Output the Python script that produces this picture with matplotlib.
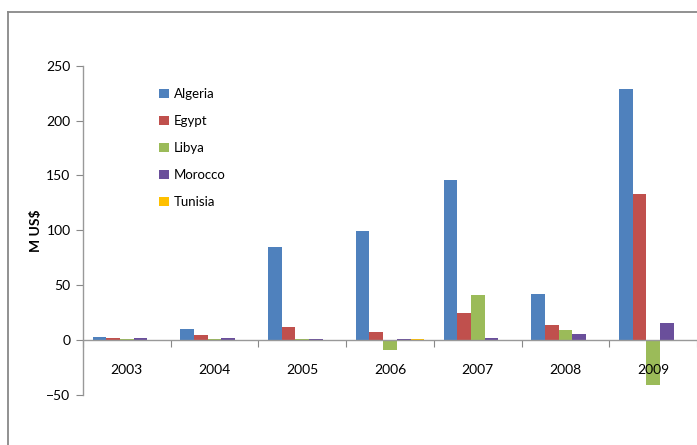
import matplotlib
matplotlib.use("Agg")
import matplotlib.pyplot as plt
from matplotlib.lines import Line2D
import numpy as np

plt.rcParams['font.family'] = ['Lato', 'DejaVu Sans']

years = ['2003', '2004', '2005', '2006', '2007', '2008', '2009']
countries = ['Algeria', 'Egypt', 'Libya', 'Morocco', 'Tunisia']
algeria = [2.5, 10, 85, 99, 146, 42, 229]
egypt = [1.5, 5, 12, 7.5, 25, 14, 133]
libya = [0.8, 1, 1, -9, 41, 9.5, -41]
morocco = [1.5, 1.5, 1, 1, 1.5, 6, 16]
tunisia = [0, 0, 0, 1, 0, 0, -1]
series = [algeria, egypt, libya, morocco, tunisia]
colors = ['#4F81BD', '#C0504D', '#9BBB59', '#6A4F9B', '#FFC000']

fig = plt.figure(figsize=(6.97, 4.45), dpi=100)
W, H = 697, 445
ax = fig.add_axes([83 / W, 1 - 395 / H, (697 - 83) / W, (395 - 65.7) / H])

x = np.arange(len(years)) + 0.5
w = 0.156
for k, (vals, c, name) in enumerate(zip(series, colors, countries)):
    ax.bar(x + (k - 2) * w, vals, width=w, color=c, label=name, linewidth=0)

ax.set_xlim(0, 7)
ax.set_ylim(-50, 250)
ax.set_yticks([-50, 0, 50, 100, 150, 200, 250])
ax.tick_params(axis='y', direction='out', length=5, color='#888888', labelsize=10, pad=4)

ax.spines['bottom'].set_position(('data', 0))
ax.spines['top'].set_visible(False)
ax.spines['right'].set_visible(False)
for s in ['left', 'bottom']:
    ax.spines[s].set_color('#999999')
    ax.spines[s].set_linewidth(1.0)

ax.set_xticks(np.arange(0, 8))
ax.set_xticklabels([])
ax.set_xticks(x, minor=True)
ax.set_xticklabels(years, minor=True)
ax.tick_params(axis='x', which='major', direction='out', length=5, color='#888888')
ax.tick_params(axis='x', which='minor', length=0, labelsize=10, pad=17)

ax.set_ylabel('M US$', fontsize=10, fontweight='bold', labelpad=3)

leg = ax.legend(loc='upper left', bbox_to_anchor=(0.105, 0.968), frameon=False,
                handlelength=0.7, handleheight=0.7, labelspacing=1.13,
                handletextpad=0.4, fontsize=9.5)

# outer chart frame (cropped)
fig.add_artist(Line2D([8 / W, 8 / W], [0, 1 - 12 / H], transform=fig.transFigure,
                      color='#888888', linewidth=1.3))
fig.add_artist(Line2D([8 / W, 1], [1 - 12 / H, 1 - 12 / H], transform=fig.transFigure,
                      color='#888888', linewidth=1.3))

fig.savefig('out.png', dpi=100)
